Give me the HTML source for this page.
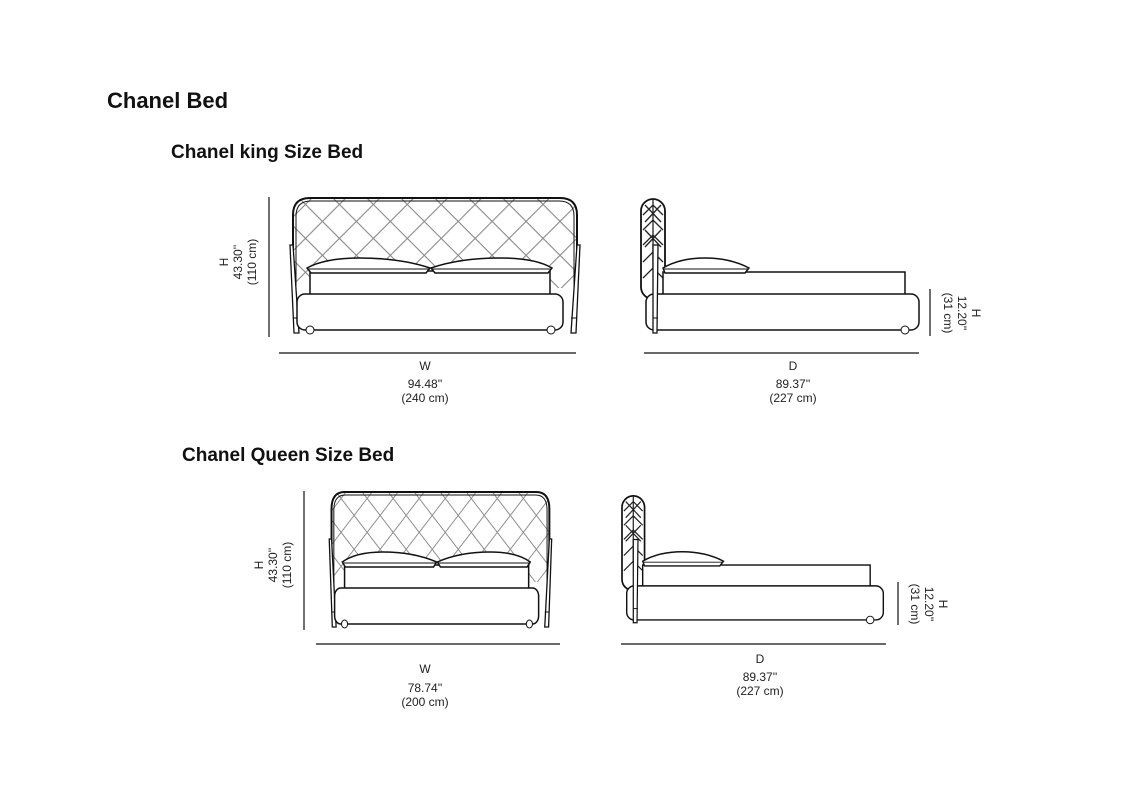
<!DOCTYPE html>
<html><head><meta charset="utf-8"><style>
body{margin:0;background:#fff;}
svg{display:block;font-family:"Liberation Sans",sans-serif;}
</style></head><body>
<svg width="1136" height="800" viewBox="0 0 1136 800" xmlns="http://www.w3.org/2000/svg">
<defs>
<pattern id="dia" width="24" height="24" patternUnits="userSpaceOnUse" patternTransform="rotate(45)">
<line x1="0" y1="0" x2="0" y2="24" stroke="#8a8a8a" stroke-width="2.2"/>
<line x1="0" y1="0" x2="24" y2="0" stroke="#8a8a8a" stroke-width="2.2"/>
</pattern>
<clipPath id="hbc"><path d="M293 288 L293 215 Q293 198 310 198 L560 198 Q577 198 577 215 L577 288 Z"/></clipPath>
<g id="front">
<rect x="293" y="198" width="284" height="100" fill="url(#dia)" clip-path="url(#hbc)"/>
<path d="M293 290 L293 215 Q293 198 310 198 L560 198 Q577 198 577 215 L577 290" fill="none" stroke="#111" stroke-width="2" vector-effect="non-scaling-stroke"/>
<path d="M296 290 L296 216 Q296 201 311 201 L559 201 Q574 201 574 216 L574 290" fill="none" stroke="#111" stroke-width="1" vector-effect="non-scaling-stroke"/>
<path d="M290 245 L293 245 L299 333 L294 333 Z" fill="#fff" stroke="#111" stroke-width="1.3" vector-effect="non-scaling-stroke"/>
<path d="M580 245 L577 245 L571 333 L576 333 Z" fill="#fff" stroke="#111" stroke-width="1.3" vector-effect="non-scaling-stroke"/>
<line x1="293" y1="318" x2="299" y2="318" stroke="#111" vector-effect="non-scaling-stroke"/>
<line x1="571" y1="318" x2="577" y2="318" stroke="#111" vector-effect="non-scaling-stroke"/>
<rect x="310" y="271" width="240" height="24" fill="#fff" stroke="#111" stroke-width="1.5" vector-effect="non-scaling-stroke"/>
<rect x="297" y="294" width="266" height="36" rx="8" fill="#fff" stroke="#111" stroke-width="1.5" vector-effect="non-scaling-stroke"/>
<circle cx="310" cy="330" r="4" fill="#fff" stroke="#111" vector-effect="non-scaling-stroke"/>
<circle cx="551" cy="330" r="4" fill="#fff" stroke="#111" vector-effect="non-scaling-stroke"/>
<path d="M307 268 Q325 258 360 258 Q400 258 430 268 L426 273 L311 273 Z" fill="#fff" stroke="#111" stroke-width="1.5" vector-effect="non-scaling-stroke"/>
<path d="M431 268 Q460 258 500 258 Q535 258 552 268 L548 273 L435 273 Z" fill="#fff" stroke="#111" stroke-width="1.5" vector-effect="non-scaling-stroke"/>
<line x1="308" y1="269" x2="429" y2="269" stroke="#111" vector-effect="non-scaling-stroke"/>
<line x1="432" y1="269" x2="551" y2="269" stroke="#111" vector-effect="non-scaling-stroke"/>
</g>
<g id="side">
<rect x="641" y="199" width="24" height="100" rx="12" fill="#fff" stroke="#111" stroke-width="1.8"/>
<path d="M643 215 L653 205 L663 215 M643 230 L653 220 L663 230 M643 245 L653 235 L663 245 M643 262 L653 252 L663 262 M643 278 L653 268 L663 278 M645 205 L661 222 M661 205 L645 222 M645 230 L661 247 M661 230 L645 247" fill="none" stroke="#222" stroke-width="1.3"/>
<line x1="653" y1="200" x2="653" y2="270" stroke="#222" stroke-width="1.3"/>
<rect x="663" y="272" width="242" height="23" fill="#fff" stroke="#111" stroke-width="1.5"/>
<rect x="646" y="294" width="273" height="36" rx="8" fill="#fff" stroke="#111" stroke-width="1.5"/>
<circle cx="905" cy="330" r="4" fill="#fff" stroke="#111"/>
<path d="M663 268 Q680 258 705 258 Q730 258 749 268 L745 273 L665 273 Z" fill="#fff" stroke="#111" stroke-width="1.5"/>
<line x1="664" y1="269" x2="748" y2="269" stroke="#111"/>
<path d="M653 245 L658 245 L657 333 L653 333 Z" fill="#fff" stroke="#111" stroke-width="1.3"/>
<line x1="653" y1="318" x2="658" y2="318" stroke="#111"/>
</g>
</defs>
<text x="107" y="108" font-size="22" font-weight="bold" fill="#111">Chanel Bed</text>
<text x="171" y="158" font-size="19" font-weight="bold" fill="#111">Chanel king Size Bed</text>
<text x="182" y="461" font-size="19" font-weight="bold" fill="#111">Chanel Queen Size Bed</text>

<use href="#front"/>
<use href="#side"/>
<g transform="translate(330,294) scale(0.767,1) translate(-291,0)"><use href="#front"/></g>
<g transform="translate(622,494) scale(0.94,0.947) translate(-641,-197)"><use href="#side"/></g>

<g stroke="#111" stroke-width="1.2">
<line x1="279" y1="353" x2="576" y2="353"/>
<line x1="269" y1="197" x2="269" y2="337"/>
<line x1="644" y1="353" x2="919" y2="353"/>
<line x1="930" y1="289" x2="930" y2="336"/>
<line x1="316" y1="644" x2="560" y2="644"/>
<line x1="304" y1="491" x2="304" y2="630"/>
<line x1="621" y1="644" x2="886" y2="644"/>
<line x1="898" y1="582" x2="898" y2="625"/>
</g>
<g font-size="12" fill="#222" text-anchor="middle">
<text x="425" y="370">W</text><text x="425" y="388">94.48''</text><text x="425" y="402">(240 cm)</text>
<text x="793" y="370">D</text><text x="793" y="388">89.37''</text><text x="793" y="402">(227 cm)</text>
<text x="425" y="673">W</text><text x="425" y="692">78.74''</text><text x="425" y="706">(200 cm)</text>
<text x="760" y="663">D</text><text x="760" y="681">89.37''</text><text x="760" y="695">(227 cm)</text>
<g transform="translate(242,262) rotate(-90)"><text x="0" y="-14">H</text><text x="0" y="0">43.30''</text><text x="0" y="14">(110 cm)</text></g>
<g transform="translate(277,565) rotate(-90)"><text x="0" y="-14">H</text><text x="0" y="0">43.30''</text><text x="0" y="14">(110 cm)</text></g>
<g transform="translate(958,313) rotate(90)"><text x="0" y="-14">H</text><text x="0" y="0">12.20''</text><text x="0" y="14">(31 cm)</text></g>
<g transform="translate(925,604) rotate(90)"><text x="0" y="-14">H</text><text x="0" y="0">12.20''</text><text x="0" y="14">(31 cm)</text></g>
</g>
</svg>
</body></html>
